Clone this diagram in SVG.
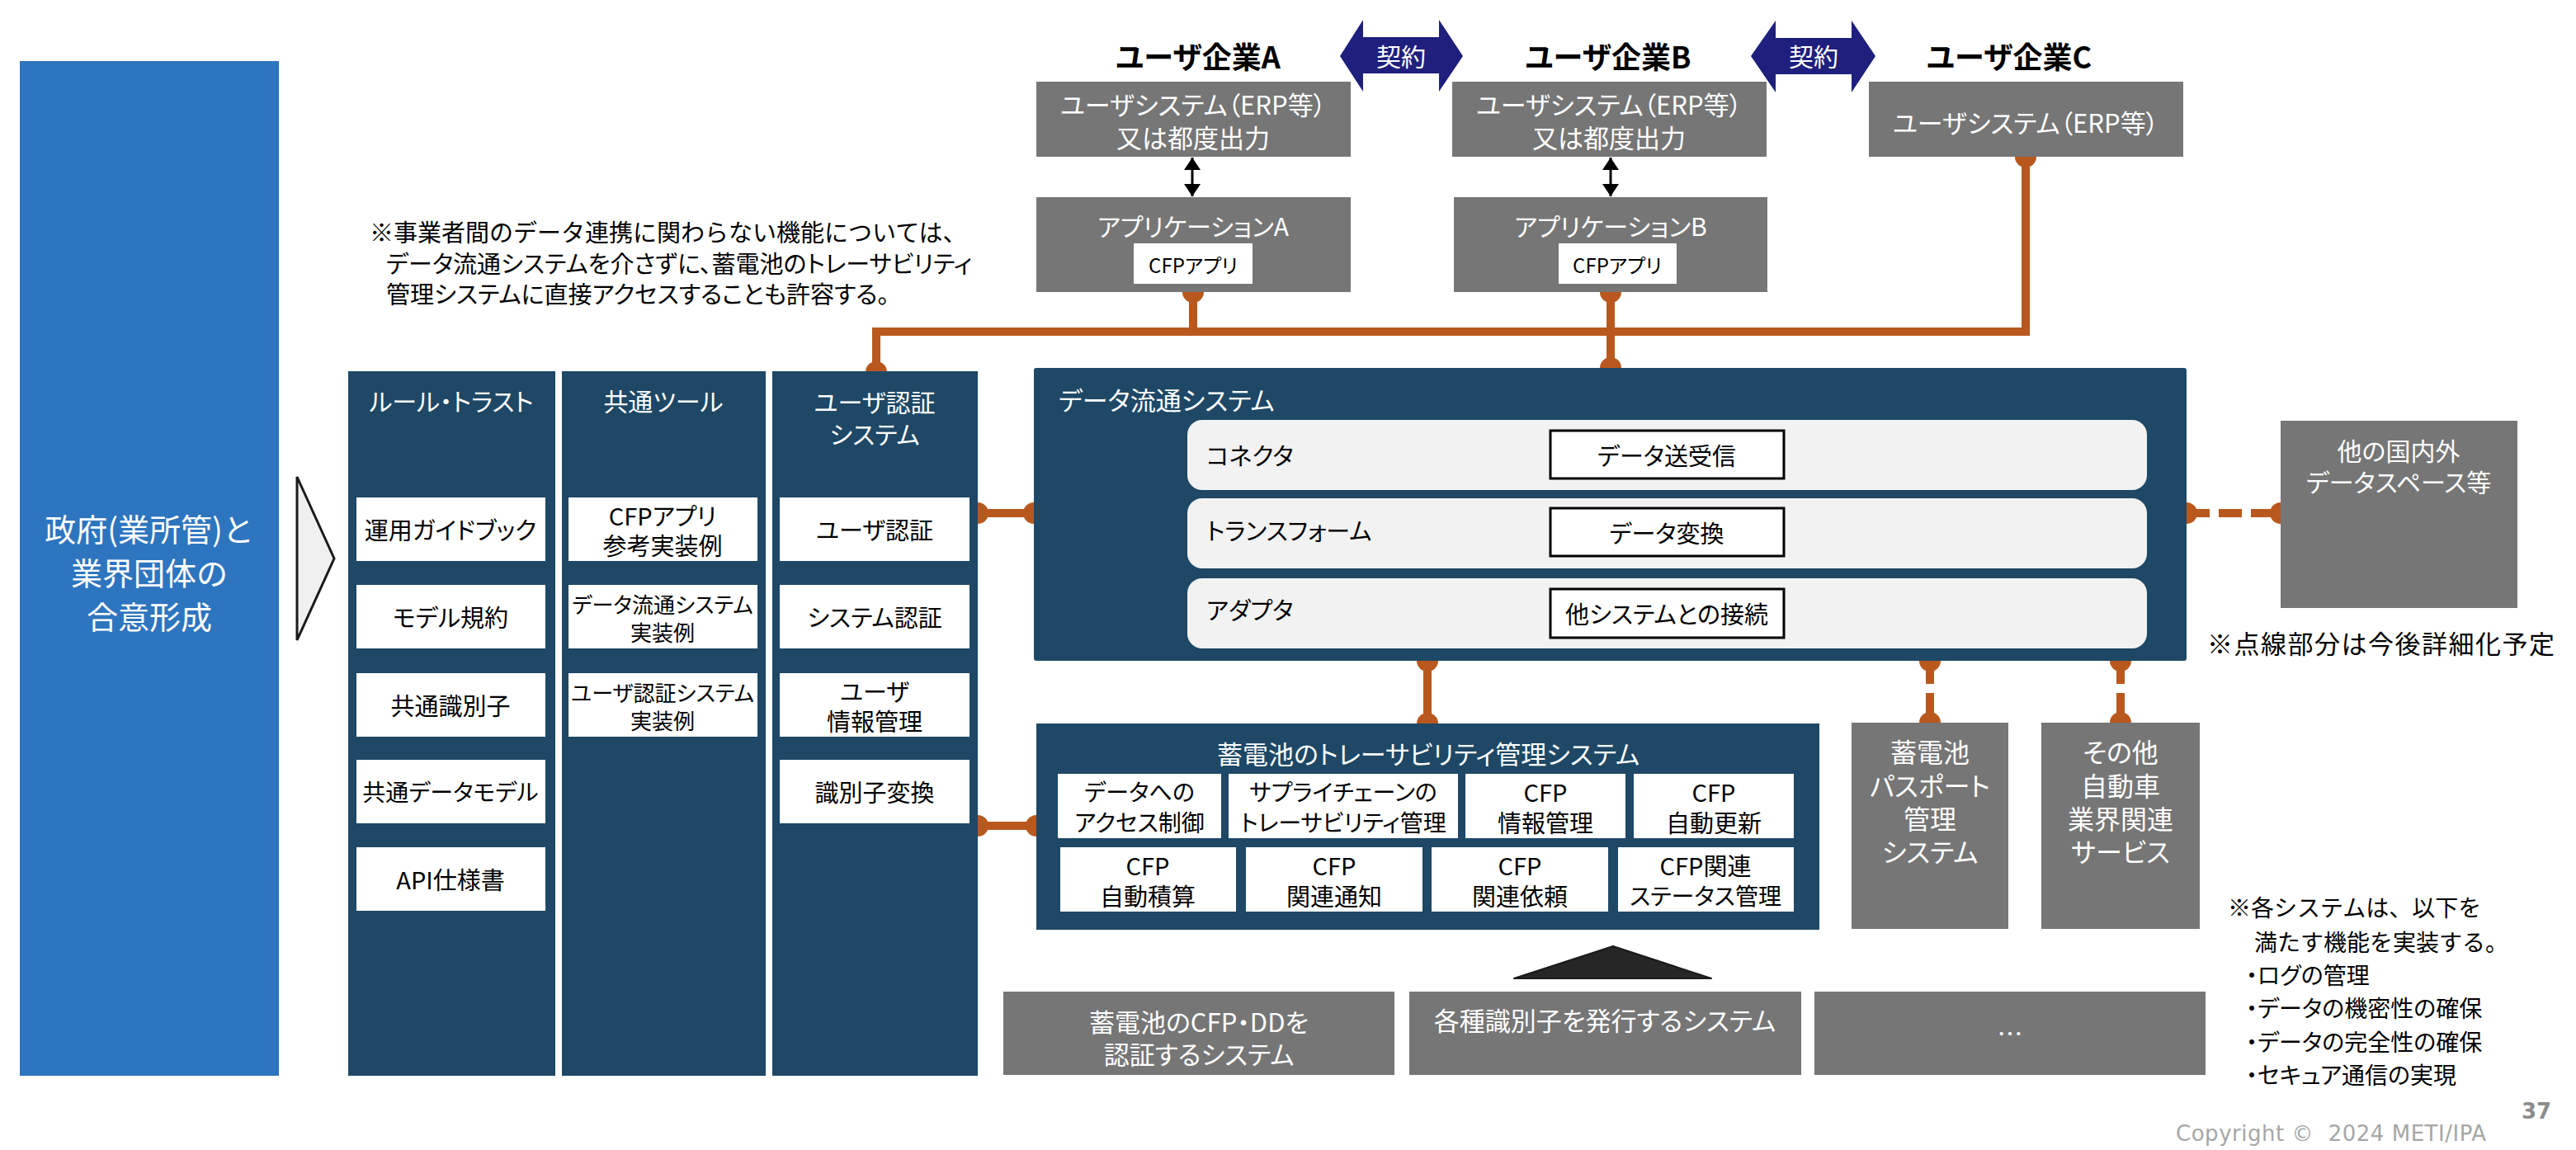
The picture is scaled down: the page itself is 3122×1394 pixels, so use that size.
<svg xmlns="http://www.w3.org/2000/svg" width="3122" height="1394" viewBox="0 0 3122 1394">
<style>
  text { font-family: "Noto Sans CJK JP", "Noto Sans CJK SC", "Noto Sans", sans-serif; dominant-baseline: central; text-anchor: middle; }
  .p { font-feature-settings: "palt" 1; }
  .w { fill: #ffffff; }
  .k { fill: #000000; }
  .s { text-anchor: start; }
  .navy { fill: #1e4866; }
  .gray { fill: #767676; }
  .wbox { fill: #ffffff; }
  .row { fill: #f2f2f2; }
  .fbox { fill: #ffffff; stroke: #000000; stroke-width: 3; }
  .wire { fill: none; stroke: #b9581e; stroke-width: 10; stroke-linejoin: miter; }
  .dash { stroke-dasharray: 28 11; }
  .cap { fill: #b9581e; }
  .f28 { font-size: 28px; } .f29 { font-size: 29px; } .f30 { font-size: 30px; }
  .f31 { font-size: 31px; } .f32 { font-size: 32px; }
</style>
<defs>
  <marker id="head" viewBox="0 0 10 10" refX="10" refY="5" markerUnits="userSpaceOnUse" markerWidth="15" markerHeight="20" preserveAspectRatio="none" orient="auto-start-reverse">
    <path d="M0,0 L10,5 L0,10 Z" fill="#000"/>
  </marker>
</defs>

<rect width="3122" height="1394" fill="#ffffff"/>

<!-- connectors (drawn first so the end caps sit half under the boxes) -->
<g id="connectors">
  <path class="wire" d="M1062,451 V402 H2455 V190"/>
  <path class="wire" d="M1446,354 V402"/>
  <path class="wire" d="M1952,354 V446"/>
  <path class="wire" d="M1185,622 H1253"/>
  <path class="wire" d="M1185,1001 H1256"/>
  <path class="wire" d="M1730,801 V877"/>
  <path class="wire dash" d="M2339,801 V876"/>
  <path class="wire dash" d="M2570,801 V876"/>
  <path class="wire dash" d="M2650,622 H2764"/>
  <g class="cap">
    <circle cx="1062" cy="451" r="13"/>
    <circle cx="1446" cy="354" r="13"/>
    <circle cx="1952" cy="354" r="13"/>
    <circle cx="1952" cy="446" r="13"/>
    <circle cx="2455" cy="190" r="13"/>
    <circle cx="1185" cy="622" r="13"/>
    <circle cx="1253" cy="622" r="13"/>
    <circle cx="1185" cy="1001" r="13"/>
    <circle cx="1256" cy="1001" r="13"/>
    <circle cx="1730" cy="801" r="13"/>
    <circle cx="1730" cy="877" r="13"/>
    <circle cx="2339" cy="801" r="13"/>
    <circle cx="2339" cy="876" r="13"/>
    <circle cx="2570" cy="801" r="13"/>
    <circle cx="2570" cy="876" r="13"/>
    <circle cx="2650" cy="622" r="13"/>
    <circle cx="2764" cy="622" r="13"/>
  </g>
  <line x1="1445" y1="191" x2="1445" y2="238" stroke="#000" stroke-width="3" marker-start="url(#head)" marker-end="url(#head)"/>
  <line x1="1952" y1="191" x2="1952" y2="238" stroke="#000" stroke-width="3" marker-start="url(#head)" marker-end="url(#head)"/>
</g>

<!-- consensus block and chevron -->
<g id="consensus">
  <rect x="24" y="74" width="314" height="1230" fill="#2e75bf"/>
  <text class="w" x="181" y="639" style="font-size:38px">政府(業所管)と</text>
  <text class="w" x="181" y="692" style="font-size:38px">業界団体の</text>
  <text class="w" x="181" y="745" style="font-size:38px">合意形成</text>
</g>
<g id="chevron">
  <polygon points="360,578 405,677 360,776" fill="#f0f0f0" stroke="#1a1a1a" stroke-width="3" stroke-linejoin="miter"/>
</g>

<!-- column: rules / trust -->
<g id="rules-trust">
  <rect class="navy" x="422" y="450" width="251" height="854"/>
  <text class="w p f30" x="547" y="485">ルール・トラスト</text>
  <rect class="wbox" x="432" y="603" width="229" height="77"/>
  <text class="k p f29" x="546" y="641">運用ガイドブック</text>
  <rect class="wbox" x="432" y="709" width="229" height="77"/>
  <text class="k p f29" x="546" y="747">モデル規約</text>
  <rect class="wbox" x="432" y="816" width="229" height="77"/>
  <text class="k p f29" x="546" y="854">共通識別子</text>
  <rect class="wbox" x="432" y="921" width="229" height="77"/>
  <text class="k p f28" x="546" y="959">共通データモデル</text>
  <rect class="wbox" x="432" y="1027" width="229" height="77"/>
  <text class="k p f29" x="546" y="1065">API仕様書</text>
</g>

<!-- column: common tools -->
<g id="common-tools">
  <rect class="navy" x="681" y="450" width="247" height="854"/>
  <text class="w p f30" x="804" y="485">共通ツール</text>
  <rect class="wbox" x="689" y="603" width="229" height="77"/>
  <text class="k p" x="803" y="624" style="font-size:29px">CFPアプリ</text>
  <text class="k p" x="803" y="660" style="font-size:29px">参考実装例</text>
  <rect class="wbox" x="689" y="709" width="229" height="77"/>
  <text class="k p" x="803" y="731" style="font-size:26px">データ流通システム</text>
  <text class="k p" x="803" y="765" style="font-size:26px">実装例</text>
  <rect class="wbox" x="689" y="816" width="229" height="77"/>
  <text class="k p" x="803" y="838" style="font-size:26px">ユーザ認証システム</text>
  <text class="k p" x="803" y="872" style="font-size:26px">実装例</text>
</g>

<!-- column: user authentication system -->
<g id="user-auth">
  <rect class="navy" x="936" y="450" width="249" height="854"/>
  <text class="w p f30" x="1060" y="486">ユーザ認証</text>
  <text class="w p f30" x="1060" y="525">システム</text>
  <rect class="wbox" x="945" y="603" width="230" height="77"/>
  <text class="k p f29" x="1060" y="641">ユーザ認証</text>
  <rect class="wbox" x="945" y="709" width="230" height="77"/>
  <text class="k p f29" x="1060" y="747">システム認証</text>
  <rect class="wbox" x="945" y="816" width="230" height="77"/>
  <text class="k p f29" x="1060" y="837">ユーザ</text>
  <text class="k p f29" x="1060" y="873">情報管理</text>
  <rect class="wbox" x="945" y="921" width="230" height="77"/>
  <text class="k p f29" x="1060" y="959">識別子変換</text>
</g>

<!-- user companies -->
<g id="company-a">
  <text class="k p" x="1452" y="67" style="font-size:36px;font-weight:bold">ユーザ企業A</text>
  <rect class="gray" x="1256" y="99" width="381" height="91"/>
  <text class="w p f31" x="1446" y="125">ユーザシステム（ERP等）</text>
  <text class="w p f31" x="1446" y="165">又は都度出力</text>
</g>
<g id="app-a">
  <rect class="gray" x="1256" y="239" width="381" height="115"/>
  <text class="w p f30" x="1446" y="273">アプリケーションA</text>
  <rect class="wbox" x="1374" y="295" width="144" height="49"/>
  <text class="k p" x="1446" y="320" style="font-size:24px">CFPアプリ</text>
</g>
<g id="company-b">
  <text class="k p" x="1949" y="67" style="font-size:36px;font-weight:bold">ユーザ企業B</text>
  <rect class="gray" x="1760" y="99" width="381" height="91"/>
  <text class="w p f31" x="1950" y="125">ユーザシステム（ERP等）</text>
  <text class="w p f31" x="1950" y="165">又は都度出力</text>
</g>
<g id="app-b">
  <rect class="gray" x="1762" y="239" width="380" height="115"/>
  <text class="w p f30" x="1952" y="273">アプリケーションB</text>
  <rect class="wbox" x="1889" y="295" width="143" height="49"/>
  <text class="k p" x="1960" y="320" style="font-size:24px">CFPアプリ</text>
</g>
<g id="company-c">
  <text class="k p" x="2435" y="67" style="font-size:36px;font-weight:bold">ユーザ企業C</text>
  <rect class="gray" x="2265" y="99" width="381" height="91"/>
  <text class="w p f31" x="2455" y="147">ユーザシステム（ERP等）</text>
</g>

<!-- contract arrows -->
<g id="contract-ab">
  <polygon points="1624,68 1652,24 1652,45 1744,45 1744,24 1773,68 1744,111 1744,89 1652,89 1652,111" fill="#1f1f7d"/>
  <text class="w p f30" x="1698" y="67">契約</text>
</g>
<g id="contract-bc">
  <polygon points="2122,68 2152,25 2152,46 2244,46 2244,25 2273,68 2244,112 2244,90 2152,90 2152,112" fill="#1f1f7d"/>
  <text class="w p f30" x="2198" y="67">契約</text>
</g>

<!-- note on direct access -->
<g id="note-direct">
  <text class="k s f29" x="448" y="280">※事業者間のデータ連携に関わらない機能については、</text>
  <text class="k s f29 p" x="468" y="318">データ流通システムを介さずに、蓄電池のトレーサビリティ</text>
  <text class="k s f29 p" x="468" y="355">管理システムに直接アクセスすることも許容する。</text>
</g>

<!-- data distribution system -->
<g id="data-system">
  <rect class="navy" x="1253" y="446" width="1397" height="355" rx="3"/>
  <text class="w p s f31" x="1283" y="483">データ流通システム</text>
  <rect class="row" x="1439" y="509" width="1163" height="85" rx="18"/>
  <text class="k p s f29" x="1462" y="551">コネクタ</text>
  <rect class="fbox" x="1879" y="522" width="283" height="58"/>
  <text class="k p f29" x="2020" y="551">データ送受信</text>
  <rect class="row" x="1439" y="604" width="1163" height="85" rx="18"/>
  <text class="k p s f29" x="1462" y="642">トランスフォーム</text>
  <rect class="fbox" x="1879" y="616" width="283" height="58"/>
  <text class="k p f29" x="2020" y="645">データ変換</text>
  <rect class="row" x="1439" y="701" width="1163" height="85" rx="18"/>
  <text class="k p s f29" x="1462" y="738">アダプタ</text>
  <rect class="fbox" x="1879" y="714" width="283" height="59"/>
  <text class="k p f29" x="2020" y="743">他システムとの接続</text>
</g>

<!-- other data spaces -->
<g id="other-spaces">
  <rect class="gray" x="2764" y="510" width="287" height="227"/>
  <text class="w p f30" x="2907" y="545">他の国内外</text>
  <text class="w p f30" x="2907" y="583">データスペース等</text>
</g>
<text class="k s" x="2675" y="778" style="font-size:31px;letter-spacing:1.5px">※点線部分は今後詳細化予定</text>

<!-- battery traceability management system -->
<g id="traceability">
  <rect class="navy" x="1256" y="877" width="949" height="250"/>
  <text class="w p f31" x="1731" y="912">蓄電池のトレーサビリティ管理システム</text>
  <rect class="wbox" x="1282" y="938" width="198" height="78"/>
  <text class="k p f28" x="1381" y="959">データへの</text>
  <text class="k p f28" x="1381" y="996">アクセス制御</text>
  <rect class="wbox" x="1489" y="938" width="278" height="78"/>
  <text class="k p f28" x="1628" y="959">サプライチェーンの</text>
  <text class="k p f28" x="1628" y="996">トレーサビリティ管理</text>
  <rect class="wbox" x="1776" y="938" width="194" height="78"/>
  <text class="k p f29" x="1873" y="959">CFP</text>
  <text class="k p f29" x="1873" y="996">情報管理</text>
  <rect class="wbox" x="1980" y="938" width="194" height="78"/>
  <text class="k p f29" x="2077" y="959">CFP</text>
  <text class="k p f29" x="2077" y="996">自動更新</text>
  <rect class="wbox" x="1285" y="1027" width="213" height="78"/>
  <text class="k p f29" x="1391" y="1048">CFP</text>
  <text class="k p f29" x="1391" y="1085">自動積算</text>
  <rect class="wbox" x="1510" y="1027" width="214" height="78"/>
  <text class="k p f29" x="1617" y="1048">CFP</text>
  <text class="k p f29" x="1617" y="1085">関連通知</text>
  <rect class="wbox" x="1735" y="1027" width="214" height="78"/>
  <text class="k p f29" x="1842" y="1048">CFP</text>
  <text class="k p f29" x="1842" y="1085">関連依頼</text>
  <rect class="wbox" x="1961" y="1027" width="213" height="78"/>
  <text class="k p f29" x="2067" y="1048">CFP関連</text>
  <text class="k p f28" x="2067" y="1085">ステータス管理</text>
</g>

<!-- battery passport system -->
<g id="passport">
  <rect class="gray" x="2244" y="876" width="190" height="250"/>
  <text class="w p f32" x="2339" y="910">蓄電池</text>
  <text class="w p f32" x="2339" y="951">パスポート</text>
  <text class="w p f32" x="2339" y="991">管理</text>
  <text class="w p f32" x="2339" y="1031">システム</text>
</g>

<!-- automotive industry services -->
<g id="auto-services">
  <rect class="gray" x="2474" y="876" width="192" height="250"/>
  <text class="w p f32" x="2570" y="910">その他</text>
  <text class="w p f32" x="2570" y="951">自動車</text>
  <text class="w p f32" x="2570" y="991">業界関連</text>
  <text class="w p f32" x="2570" y="1031">サービス</text>
</g>

<!-- supporting systems -->
<g id="support-arrow">
  <polygon points="1835,1186 1955,1147 2074,1186" fill="#262626" stroke="#1a1a1a" stroke-width="2" stroke-linejoin="round"/>
</g>
<g id="cfp-dd-auth">
  <rect class="gray" x="1216" y="1202" width="474" height="101"/>
  <text class="w p f31" x="1453" y="1237">蓄電池のCFP・DDを</text>
  <text class="w p f31" x="1453" y="1276">認証するシステム</text>
</g>
<g id="id-issuer">
  <rect class="gray" x="1708" y="1202" width="475" height="101"/>
  <text class="w p f31" x="1945" y="1235">各種識別子を発行するシステム</text>
</g>
<g id="others">
  <rect class="gray" x="2199" y="1202" width="474" height="101"/>
  <text class="w f31" x="2436" y="1250">…</text>
</g>

<!-- common requirements note -->
<g id="note-requirements">
  <text class="k s f28" x="2700" y="1099">※各システムは、以下を</text>
  <text class="k s f28" x="2732" y="1141">満たす機能を実装する。</text>
  <text class="k s f28 p" x="2722" y="1181">・ログの管理</text>
  <text class="k s f28 p" x="2722" y="1221">・データの機密性の確保</text>
  <text class="k s f28 p" x="2722" y="1262">・データの完全性の確保</text>
  <text class="k s f28 p" x="2722" y="1302">・セキュア通信の実現</text>
</g>

<!-- footer -->
<text x="3074" y="1347" style="font-family:'DejaVu Sans',sans-serif;font-size:26px;font-weight:bold;fill:#8c8c8c">37</text>
<text class="s" x="2637" y="1374" textLength="376" lengthAdjust="spacing" style="font-family:'DejaVu Sans',sans-serif;font-size:26px;fill:#a6a6a6;white-space:pre">Copyright ©  2024 METI/IPA</text>
</svg>
